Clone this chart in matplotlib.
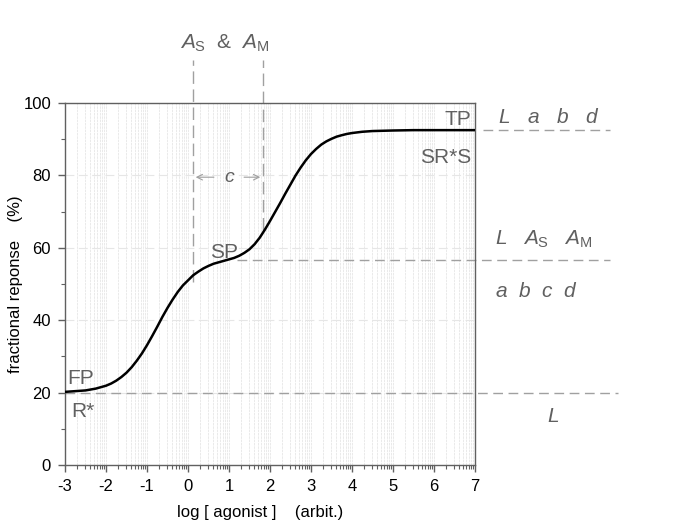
import numpy as np
import matplotlib
matplotlib.use('Agg')
from matplotlib import pyplot as plt

plt.rcParams['font.family'] = ['Liberation Sans', 'DejaVu Sans']
plt.rcParams['mathtext.fontset'] = 'custom'
plt.rcParams['mathtext.rm'] = 'Liberation Sans'
plt.rcParams['mathtext.it'] = 'Liberation Sans:italic'

# curve
log_agonist = [-3.0, -2.75, -2.5, -2.25, -2.125, -2.0, -1.875, -1.75, -1.625, -1.5,
               -1.375, -1.25, -1.125, -1.0, -0.875, -0.75, -0.625, -0.5, -0.375, -0.25,
               -0.125, 0.0, 0.125, 0.25, 0.375, 0.5, 0.625, 0.75, 0.875, 1.0,
               1.125, 1.25, 1.375, 1.5, 1.625, 1.75, 1.875, 2.0, 2.125, 2.25,
               2.375, 2.5, 2.625, 2.75, 2.875, 3.0, 3.125, 3.25, 3.375, 3.5,
               3.625, 3.75, 3.875, 4.0, 4.25, 4.5, 5.0, 5.5, 6.0, 7.0]
response = [20.2, 20.4, 20.6, 21.1, 21.5, 21.9, 22.5, 23.3, 24.3, 25.5,
            27.0, 28.8, 30.8, 33.1, 35.6, 38.2, 40.9, 43.4, 45.7, 47.8,
            49.6, 51.0, 52.4, 53.4, 54.3, 55.0, 55.6, 56.0, 56.4, 56.8,
            57.2, 57.8, 58.6, 59.6, 61.0, 62.8, 65.0, 67.4, 69.9, 72.4,
            75.0, 77.5, 80.0, 82.2, 84.2, 85.9, 87.3, 88.5, 89.4, 90.1,
            90.7, 91.1, 91.45, 91.7, 92.05, 92.25, 92.4, 92.5, 92.5, 92.5]

fp_level = 20.0
sp_level = 56.5
tp_level = 92.5
a_s = 0.12
a_m = 1.83

grey = '#606060'
dash_grey = '#a0a0a0'

fig = plt.figure(figsize=(6.85, 5.22), dpi=100)
ax = fig.add_axes([0.0949, 0.1092, 0.5985, 0.6935])

# faint log-style grid
for dec in range(-3, 7):
    for k in range(1, 10):
        xv = dec + np.log10(k)
        ax.axvline(xv, color='#e6e6e6', lw=0.6, ls=(0, (3, 1)), zorder=0)
for yv in [20, 40, 60, 80]:
    ax.axhline(yv, color='#e6e6e6', lw=0.8, ls=(0, (8, 4)), zorder=0)

ax.plot(log_agonist, response, color='black', lw=1.8, zorder=3)

dash = (0, (7, 4))
ax.plot([-3, 10.5], [fp_level, fp_level], color=dash_grey, lw=1, ls=dash, clip_on=False)
ax.plot([1.2, 10.3], [sp_level, sp_level], color=dash_grey, lw=1, ls=dash, clip_on=False)
ax.plot([7.2, 10.3], [tp_level, tp_level], color=dash_grey, lw=1, ls=dash, clip_on=False)
ax.plot([a_s, a_s], [50.5, 112], color=dash_grey, lw=1, ls=(0, (9, 4)), clip_on=False)
ax.plot([a_m, a_m], [65, 112], color=dash_grey, lw=1, ls=(0, (9, 4)), clip_on=False)

ax.annotate('', xy=(a_s, 79.5), xytext=(0.7, 79.5),
            arrowprops=dict(arrowstyle='->', color=dash_grey, lw=0.8))
ax.annotate('', xy=(a_m, 79.5), xytext=(1.3, 79.5),
            arrowprops=dict(arrowstyle='->', color=dash_grey, lw=0.8))
ax.text(1.0, 79.5, 'c', style='italic', fontsize=14, color=grey, ha='center', va='center')

ax.set_xlim(-3, 7)
ax.set_ylim(0, 100)
ax.set_xticks(range(-3, 8))
ax.set_xticklabels([str(v) for v in range(-3, 8)])
minor_x = [d + np.log10(k) for d in range(-3, 7) for k in range(2, 10)]
ax.set_xticks(minor_x, minor=True)
ax.set_yticks(range(0, 101, 20))
ax.set_yticks(range(10, 100, 20), minor=True)
ax.tick_params(which='major', direction='out', length=5, width=1, color=grey, labelsize=12, pad=5)
ax.tick_params(which='minor', direction='out', length=3, width=0.8, color=grey)
for s in ax.spines.values():
    s.set_color(grey)
    s.set_linewidth(1)

ax.set_xlabel('log [ agonist ]    (arbit.)', fontsize=12, labelpad=8, x=0.475)
ax.set_ylabel('fractional reponse    (%)', fontsize=12, labelpad=0)

tk = dict(fontsize=15, color=grey)
ax.text(6.9, 95.5, 'TP', ha='right', va='center', **tk)
ax.text(6.9, 85, 'SR*S', ha='right', va='center', **tk)
ax.text(0.55, 58.8, 'SP', ha='left', va='center', **tk)
ax.text(-2.95, 24, 'FP', ha='left', va='center', **tk)
ax.text(-2.85, 14.8, 'R*', ha='left', va='center', **tk)

it = dict(fontsize=15, color=grey, va='center', clip_on=False)
ax.text(7.55, 96, r'$L$   $a$   $b$   $d$', **it)
ax.text(7.5, 62.2, r'$L$   $A_{\rm S}$   $A_{\rm M}$', **it)
ax.text(7.5, 48, r'$a$  $b$  $c$  $d$', **it)
ax.text(8.75, 13.5, r'$L$', **it)
ax.text(0.9, 116.5, r'$A_{\rm S}$  &  $A_{\rm M}$', fontsize=15, color=grey,
        ha='center', va='center', clip_on=False)

fig.savefig('out.png', dpi=100)
